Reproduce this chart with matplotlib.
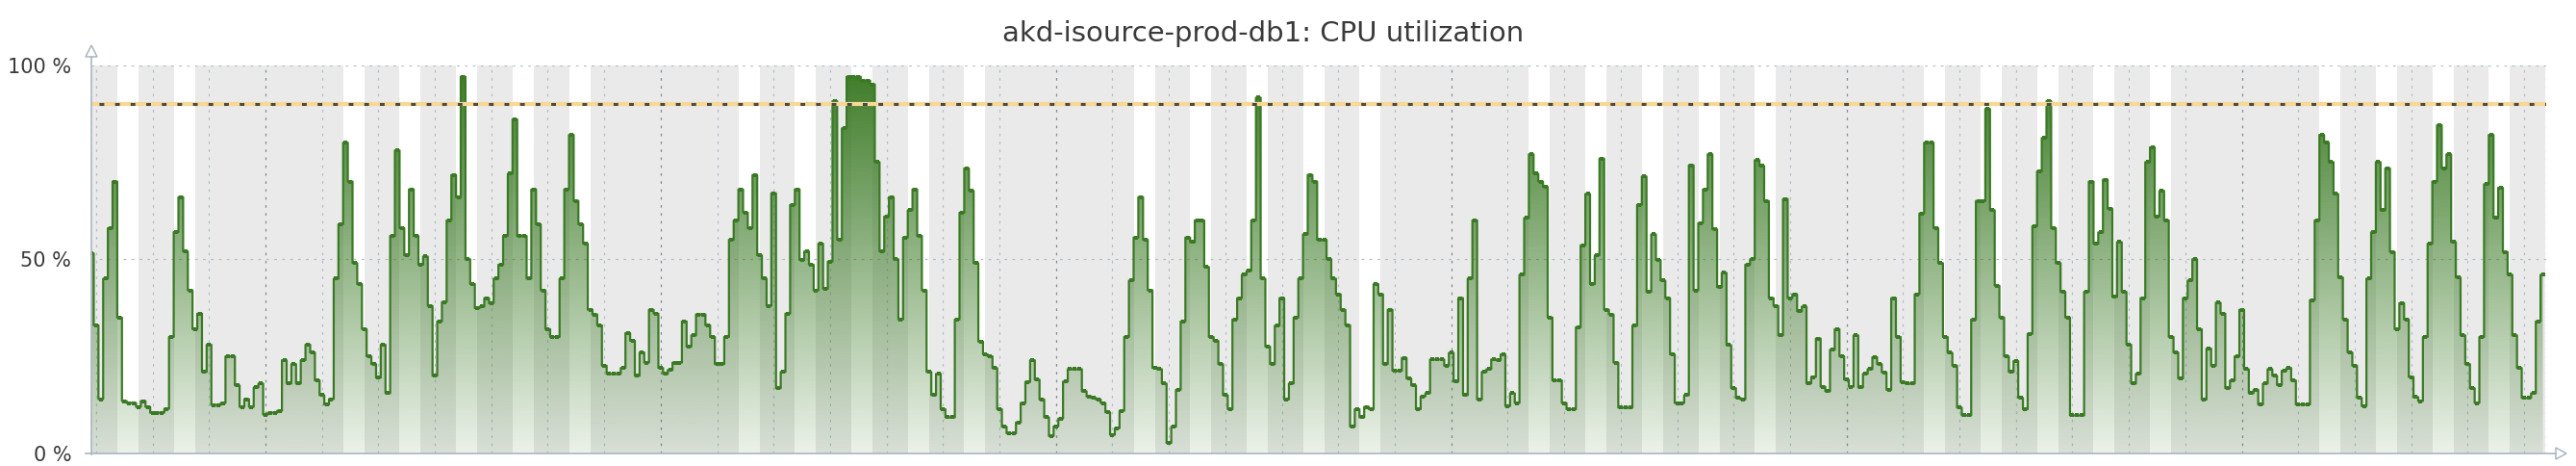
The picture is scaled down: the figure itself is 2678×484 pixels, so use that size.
import numpy as np
import matplotlib
matplotlib.use("Agg")
import matplotlib.pyplot as plt
from matplotlib.lines import Line2D
from matplotlib.patches import Polygon

# ---------------- data (CPU utilization, %, one value every 2 hours) ----------------
title_text = "akd-isource-prod-db1: CPU utilization"
y_ticks = [0, 50, 100]
y_tick_labels = ["0 %", "50 %", "100 %"]
threshold = 90
step_hours = 2
start_hour = 22            # first sample at 22:00
first_day_weekday = 3      # the first full day is a Thursday (Mon=0)
work_start, work_end = 9, 18
period_hours = 1043.4

cpu_part1 = [51.5, 33, 14, 45, 58, 70, 35, 13.5, 13, 13, 12, 13.5, 12, 10.5, 10.5, 10.5, 11.5, 30, 57, 66,
             52, 42, 32, 36, 21, 28, 12.5, 12.5, 13, 25, 25, 17.5, 12, 14, 12, 17, 18, 10, 10.5, 10.5,
             11, 24, 18, 23, 18, 24, 28, 26, 18.8, 15, 12.6, 14, 45, 59, 80, 70, 49, 43.6, 32, 25,
             23, 19.5, 28, 15.5, 56, 78, 58, 51, 68, 56, 48.6, 50.7, 38, 20, 34, 39, 60, 71.7, 66, 97,
             50, 43.6, 37.4, 37.8, 40, 38.7, 45, 48.6, 56, 72]
cpu_part2 = [86, 56, 56, 45, 68, 59, 42, 32, 30, 30, 45, 68, 82, 65, 59, 54, 37, 35.8, 33, 22.6,
             20.5, 20.5, 20.5, 22, 31, 29, 20, 26, 23.4, 37, 36, 22, 20.5, 21.5, 23.4, 23.4, 34, 27.5, 30.4, 35.8,
             35.8, 33, 30, 23, 23, 30, 55, 60, 68, 62, 58, 71.7, 51, 45, 38, 67, 16.8, 21, 36, 64,
             68, 49.8, 52, 48.6, 42, 54, 42.4, 49.4, 90.7, 55, 83.7, 97, 97, 97, 96, 96, 95, 75, 52, 61,
             66, 50, 34.5, 55.6, 62.6, 68, 56]
cpu_part3 = [42, 21, 15, 20.5, 11.4, 9.3, 9.3, 34.5, 62, 73.4, 67.6, 49, 28.8, 25.5, 25, 22, 11.4, 6.9, 5.2, 5.2,
             8, 13, 18.4, 24, 19, 13.9, 9.3, 4.5, 7, 9, 18.5, 21.7, 21.7, 21.7, 16, 14.7, 14.3, 13.9, 13, 10.6,
             4.8, 6.5, 11, 30, 44.5, 55.6, 66, 55, 42, 22, 21.7, 18, 2.7, 6.9, 16.4, 34, 55.6, 54.4, 60, 60,
             48, 30, 29, 23, 15, 11.4, 34.5, 40, 46, 47, 60, 91.6, 45, 27.5, 23, 32.9, 40, 13.9, 18, 35,
             45, 56.4, 71.7, 70, 55, 55, 50, 45]
cpu_part4 = [41, 37, 33, 6.9, 11.4, 9.3, 12, 11.4, 43.6, 41, 23, 37, 21.3, 21.3, 24.6, 19.3, 17.5, 11.4, 14.7, 15.5,
             24.2, 24.2, 24.2, 22.6, 25.9, 18.5, 40, 15, 45, 60, 13.9, 21, 21.7, 24.2, 24, 25.5, 12.2, 15.5, 13, 46,
             60.6, 77, 72, 70, 68.6, 35, 18.8, 18.8, 13, 11.4, 11.4, 32.5, 53.6, 66.8, 43.6, 51, 75.9, 37, 35.8, 23.4,
             11.8, 11.8, 11.8, 32.9, 64, 71.3, 41.6, 56.4, 49.8, 44.5, 40, 25.5, 13, 13, 15, 74.2, 42, 59.3, 68, 77,
             57.7, 42.8, 46.5, 27.9, 16.8, 14.3, 13.9, 48.6]
cpu_part5 = [50, 75.5, 74, 65, 40, 38, 30.4, 65.5, 40, 41, 36.6, 37.8, 18, 19.7, 29.6, 17.2, 16, 26.7, 32, 25,
             19, 17.2, 30.4, 17, 20.5, 21.7, 24.8, 23, 20.9, 16.4, 40, 30, 18.4, 18, 18, 41, 61.8, 80, 80, 58,
             49, 30, 25.9, 22.6, 11.8, 9.8, 9.8, 34.5, 65, 65, 88.7, 62.6, 43.2, 35, 25, 21, 23.8, 14.3, 11.4, 30.8,
             58.5, 72.6, 81.2, 90.7, 58, 49, 41.6, 35, 9.8, 9.8, 9.8, 41.6, 70, 54, 56.9, 70.5, 63, 40.3, 54.4, 41.6,
             28, 18, 20.5, 40, 75, 78.8, 61, 67.6]
cpu_part6 = [60, 30, 26, 19.3, 40, 44.5, 50, 32, 13.9, 27, 22.6, 38.8, 36, 16.8, 18.8, 25, 37, 21.7, 15.5, 16.4,
             12.6, 18, 21.7, 20, 17.6, 21.3, 22, 18.8, 12.6, 12.6, 12.6, 39.5, 60, 82, 80, 75, 66.8, 45.3, 34.5, 26,
             22.6, 14.3, 12.2, 45, 56.9, 75, 62.6, 73.4, 51.9, 32, 38.7, 34.5, 19.7, 14.5, 13.5, 30, 54, 70, 84.5, 73.4,
             77, 54.4, 45.3, 30.4, 23, 16.8, 13, 30, 69.3, 82, 60.6, 68.4, 51.9, 46, 30.4, 22, 14.3, 14.3, 15.5, 34,
             46]

values = np.array(cpu_part1 + cpu_part2 + cpu_part3 + cpu_part4 + cpu_part5 + cpu_part6, dtype=float)
hours = np.arange(len(values)) * step_hours

# ---------------- style ----------------
GREEN = "#3b7a25"
GREY_BAND = "#eaeaea"
GRID_MINOR = "#b3bec8"
GRID_MAJOR = "#7f8d9a"
AXIS_COL = "#aab6c2"
TEXT_COL = "#3a3a3a"

W, H = 2678, 484
fig = plt.figure(figsize=(W / 100, H / 100), dpi=100)
fig.patch.set_facecolor("white")


def fx(px):
    return px / W


def fy(py):
    return 1 - py / H


AX_L, AX_R, AX_T, AX_B = 95, 2647, 67.5, 471
ax = fig.add_axes([fx(AX_L), fy(AX_B), fx(AX_R) - fx(AX_L), fy(AX_T) - fy(AX_B)])
ax.set_xlim(0, period_hours)
ax.set_ylim(0, 100)
ax.set_facecolor(GREY_BAND)
for s in ax.spines.values():
    s.set_visible(False)

# working-time bands (white) and midnight gridlines
first_midnight = (24 - start_hour) % 24
n_days = int(np.ceil(period_hours / 24)) + 2
for d in range(-1, n_days):
    wd = (first_day_weekday + d) % 7
    day0 = first_midnight + 24 * d
    if wd < 5:
        ax.axvspan(day0 + work_start, day0 + work_end, color="white", lw=0, zorder=0)
    if 0 < day0 < period_hours:
        major = (wd == 6)
        ax.axvline(day0, color=GRID_MAJOR if major else GRID_MINOR, lw=0.9,
                   linestyle=(0, (2.2, 4.4)), zorder=1)
ax.axvline(period_hours, color=GRID_MINOR, lw=0.9, linestyle=(0, (2.2, 4.4)), zorder=1)
for yv in (50, 100):
    ax.axhline(yv, color=GRID_MINOR, lw=0.9, linestyle=(0, (2.2, 4.4)), zorder=1)

# gradient fill under the curve
poly = ax.fill_between(hours, values, 0, step="mid", facecolor="none", edgecolor="none")
g = np.linspace(0, 1, 256)
rgba = np.zeros((256, 1, 4))
base = matplotlib.colors.to_rgb(GREEN)
rgba[:, 0, 0] = base[0]
rgba[:, 0, 1] = base[1]
rgba[:, 0, 2] = base[2]
rgba[:, 0, 3] = 0.10 + 0.90 * g
img = ax.imshow(rgba, extent=[0, period_hours, 0, 100], origin="lower", aspect="auto",
                interpolation="bilinear", zorder=2)
img.set_clip_path(poly.get_paths()[0], transform=ax.transData)

# the series
ax.plot(hours, values, drawstyle="steps-mid", color=GREEN, lw=1.6, zorder=4)
ax.plot(hours, values, linestyle="none", marker="s", ms=3.2, mew=0, color=GREEN, zorder=4)

# threshold
ax.axhline(threshold, color="#f7d894", lw=3.0, zorder=5)
ax.axhline(threshold, color="#4b4b4b", lw=2.2, linestyle=(2.7, (1.6, 3.7)), zorder=6)

# y ticks
ax.set_yticks(y_ticks)
ax.set_yticklabels(y_tick_labels, fontsize=15, color=TEXT_COL)
ax.tick_params(axis="y", length=0, pad=15)
ax.set_xticks([])

# axes lines with arrows
fig.add_artist(Line2D([fx(AX_L), fx(AX_L)], [fy(AX_B + 1), fy(59)], color=AXIS_COL, lw=1.2))
fig.add_artist(Line2D([fx(89), fx(2657)], [fy(AX_B), fy(AX_B)], color=AXIS_COL, lw=1.2))
fig.add_artist(Polygon([[fx(89), fy(59)], [fx(101), fy(59)], [fx(95), fy(47)]], closed=True,
                       facecolor="white", edgecolor=AXIS_COL, lw=1.1))
fig.add_artist(Polygon([[fx(2657), fy(AX_B - 6)], [fx(2657), fy(AX_B + 6)], [fx(2668), fy(AX_B)]],
                       closed=True, facecolor="white", edgecolor=AXIS_COL, lw=1.1))

# title
fig.text(fx(1313.5), fy(42.7), title_text, ha="center", va="baseline", fontsize=21, color=TEXT_COL)

fig.savefig("out.png", dpi=100, facecolor="white")
